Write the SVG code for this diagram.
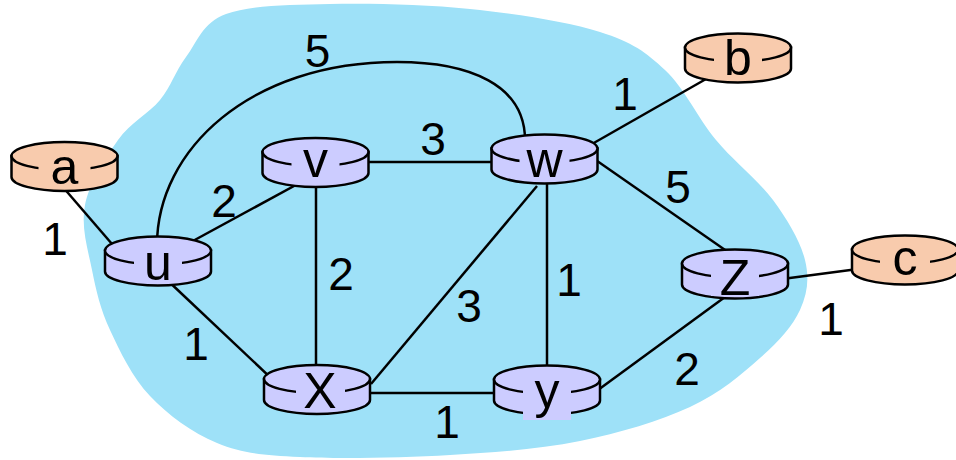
<svg xmlns="http://www.w3.org/2000/svg" width="956" height="460" viewBox="0 0 956 460">
<defs>
<style>
.blob{fill:#9ee1f8;stroke:none}
.edge{stroke:#000;stroke-width:2.5;fill:none}
.router{fill:#ccccff}
.host{fill:#f8cbad}
.cyl{stroke:#000;stroke-width:2.5}
.lbl{font-family:"Liberation Sans",Arial,sans-serif;font-size:50px;text-anchor:middle;fill:#000}
.w{font-family:"Liberation Sans",Arial,sans-serif;font-size:46px;text-anchor:middle;fill:#000}
</style>
<g id="cylinder">
<path class="cyl" d="M-53,0 V21 A53,14 0 0 0 53,21 V0 Z"/>
<ellipse class="cyl" cx="0" cy="0" rx="53" ry="14"/>
</g>
</defs>
<rect width="956" height="460" fill="#fff"/>
<path class="blob" d="M186,57 C197,42.7 202,22.8 226,14 C250,5.2 289.3,4.8 330,4 C370.7,3.2 425,4.3 470,9 C515,13.7 567.5,21.8 600,32 C632.5,42.2 645.7,52 665,70 C684.3,88 698,118.3 716,140 C734,161.7 758.2,180 773,200 C787.8,220 800.5,241.7 805,260 C809.5,278.3 807.5,293.7 800,310 C792.5,326.3 778.3,341.8 760,358 C741.7,374.2 720,393.2 690,407 C660,420.8 620,433 580,441 C540,449 496.7,452.3 450,455 C403.3,457.7 338.8,459 300,457 C261.2,455 242,453.2 217,443 C192,432.8 167.8,414.8 150,396 C132.2,377.2 119.7,351 110,330 C100.3,309 96.2,290.8 92,270 C87.8,249.2 80.7,226.7 85,205 C89.3,183.3 105.5,157.5 118,140 C130.5,122.5 148.7,113.8 160,100 C171.3,86.2 175,71.7 186,57 Z"/>
<g id="connectors">
<line class="edge" x1="62" y1="186" x2="112" y2="244"/>
<line class="edge" x1="180" y1="248" x2="305" y2="180"/>
<line class="edge" x1="165" y1="278" x2="290" y2="396"/>
<path class="edge" d="M157,245 C157,150 250,62 397,62 C470,62 525,85 525,140"/>
<line class="edge" x1="360" y1="162" x2="500" y2="162"/>
<line class="edge" x1="316" y1="175" x2="316" y2="385"/>
<line class="edge" x1="537" y1="186" x2="371" y2="384"/>
<line class="edge" x1="547" y1="175" x2="547" y2="385"/>
<line class="edge" x1="585" y1="148" x2="706" y2="79"/>
<line class="edge" x1="590" y1="156" x2="728" y2="252"/>
<line class="edge" x1="725" y1="297" x2="598" y2="390"/>
<line class="edge" x1="360" y1="393" x2="505" y2="393"/>
<line class="edge" x1="786" y1="278.5" x2="858" y2="269"/>
</g>
<g id="weights">
<text class="w" x="317.5" y="67">5</text>
<text class="w" x="625" y="110">1</text>
<text class="w" x="433" y="155">3</text>
<text class="w" x="224" y="217">2</text>
<text class="w" x="55" y="255">1</text>
<text class="w" x="341" y="290">2</text>
<text class="w" x="469" y="322">3</text>
<text class="w" x="569" y="296">1</text>
<text class="w" x="678" y="203">5</text>
<text class="w" x="831" y="335">1</text>
<text class="w" x="687" y="385">2</text>
<text class="w" x="447" y="438">1</text>
<text class="w" x="196" y="360">1</text>
</g>
<g id="node-a" class="host">
<use href="#cylinder" x="64.5" y="156"/>
<rect x="38.5" y="154" width="52" height="31"/>
<text class="lbl" x="64.5" y="184">a</text>
</g>
<g id="node-b" class="host">
<use href="#cylinder" x="738" y="47.5"/>
<rect x="714" y="45.5" width="48" height="30.5"/>
<text class="lbl" x="738" y="75">b</text>
</g>
<g id="node-c" class="host">
<use href="#cylinder" x="905" y="249.5"/>
<rect x="880" y="247.5" width="50" height="28.5"/>
<text class="lbl" x="905" y="275">c</text>
</g>
<g id="node-u" class="router">
<use href="#cylinder" x="158" y="250.5"/>
<rect x="134" y="248.5" width="48" height="32.5"/>
<text class="lbl" x="158" y="280">u</text>
</g>
<g id="node-v" class="router">
<use href="#cylinder" x="315.5" y="152"/>
<rect x="291.5" y="150" width="48" height="28"/>
<text class="lbl" x="315.5" y="177">v</text>
</g>
<g id="node-w" class="router">
<use href="#cylinder" x="544.5" y="148.5"/>
<rect x="519.5" y="146.5" width="50" height="31.5"/>
<text class="lbl" x="544.5" y="177">w</text>
</g>
<g id="node-x" class="router">
<use href="#cylinder" x="317" y="379"/>
<rect x="296" y="377" width="49" height="32"/>
<text class="lbl" x="320" y="408">X</text>
</g>
<g id="node-y" class="router">
<use href="#cylinder" x="547" y="379.5"/>
<rect x="523" y="377.5" width="48" height="42.5"/>
<text class="lbl" x="547" y="408">y</text>
</g>
<g id="node-z" class="router">
<use href="#cylinder" x="735" y="263.5"/>
<rect x="711" y="261.5" width="48" height="34.5"/>
<text class="lbl" x="735" y="295">Z</text>
</g>
</svg>
